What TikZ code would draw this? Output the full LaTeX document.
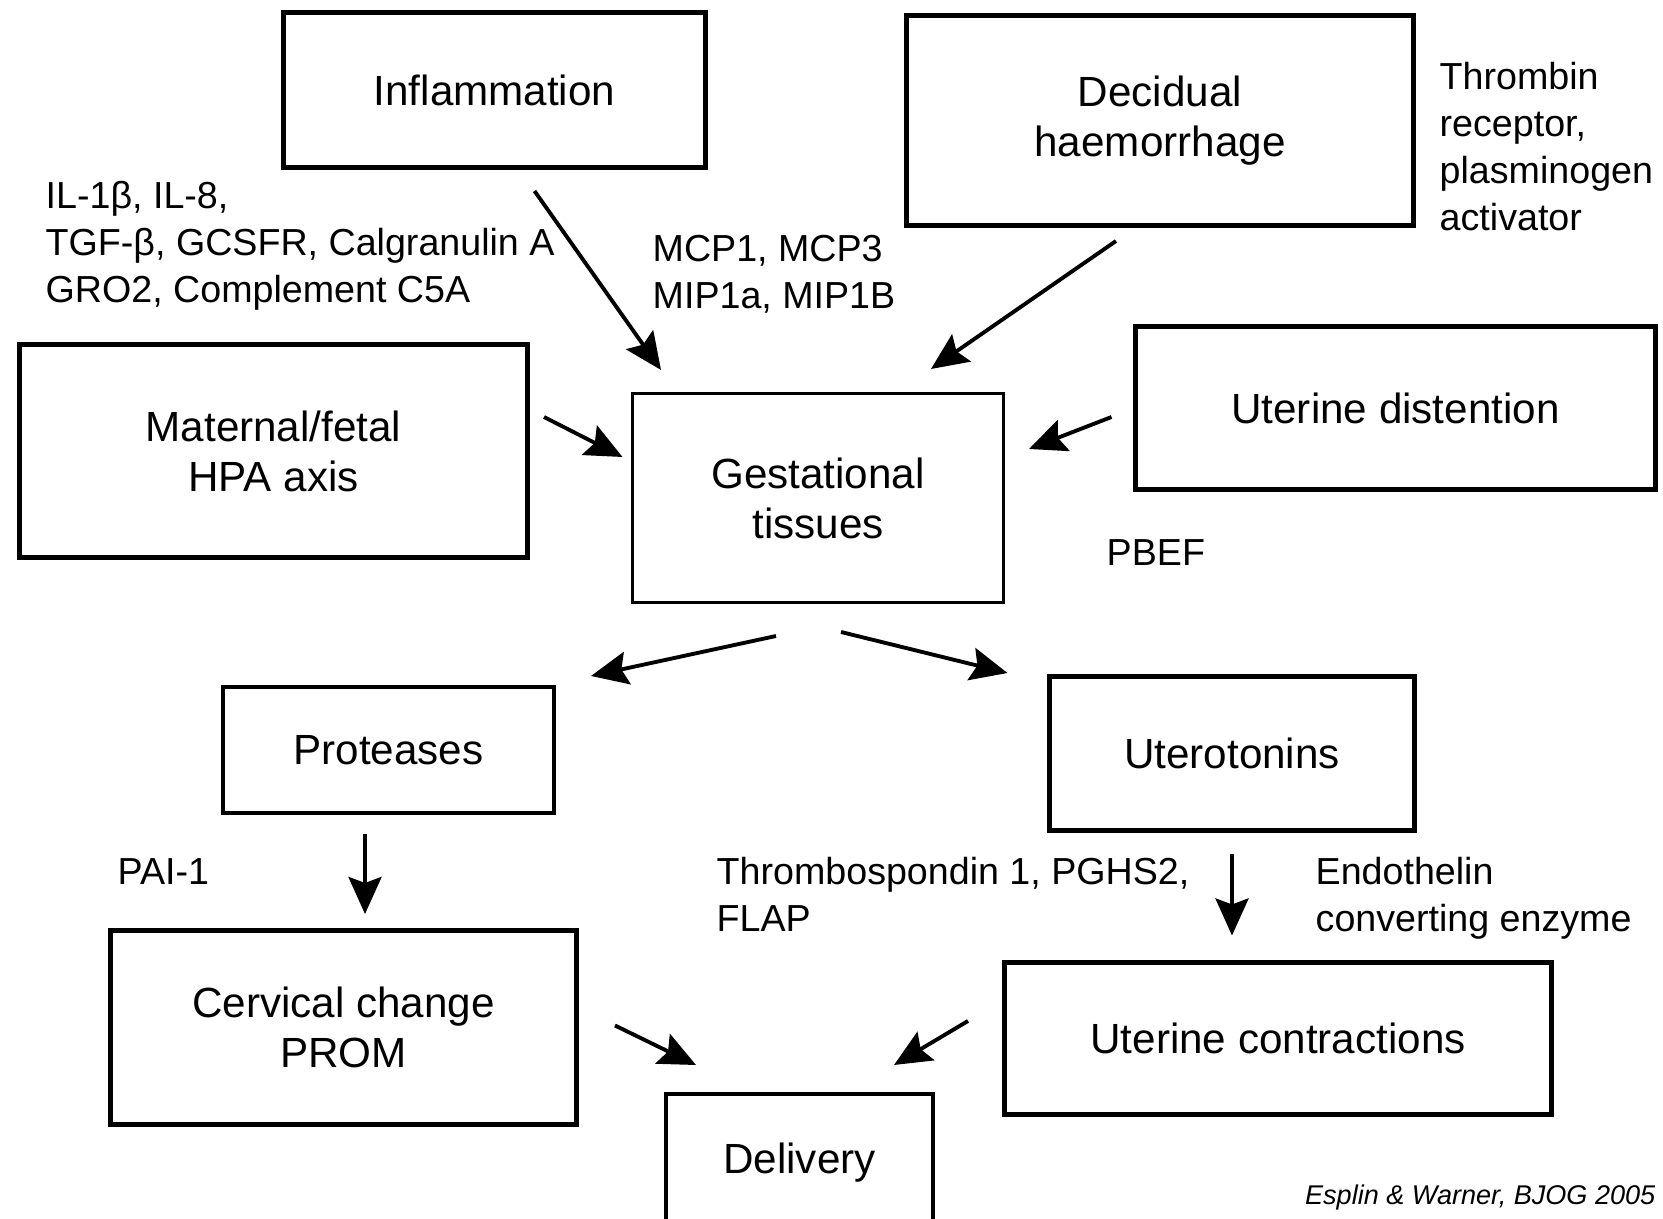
\documentclass[tikz,border=0pt]{standalone}
\usepackage{fontspec}
\setmainfont{Liberation Sans}
\usetikzlibrary{arrows.meta}

\begin{document}
\begin{tikzpicture}[x=0.01cm,y=-0.01cm,
    box/.style={draw=black,line width=1.4pt,align=center,inner sep=0pt,
        font=\fontsize{12}{14.2}\selectfont},
    lbl/.style={anchor=west,align=left,inner sep=0pt,
        font=\fontsize{10.7}{13.3}\selectfont},
    arr/.style={-{Stealth[length=0.37cm,width=0.33cm,inset=0.06cm]},line width=1.1pt}]

\useasboundingbox (0,0) rectangle (1663,1219);
\clip (0,0) rectangle (1663,1219);

% boxes
\node[box,minimum width=4.22cm,minimum height=1.55cm] (infl) at (494.5,90) {Inflammation};
\node[box,minimum width=5.07cm,minimum height=2.10cm] (decid) at (1160,120.5) {Decidual\\haemorrhage};
\node[box,minimum width=5.08cm,minimum height=2.13cm] (hpa) at (273.5,451) {Maternal/fetal\\HPA axis};
\node[box,line width=0.85pt,minimum width=3.71cm,minimum height=2.08cm] (gest) at (818,498) {Gestational\\tissues};
\node[box,minimum width=5.20cm,minimum height=1.62cm] (dist) at (1395.5,408) {Uterine distention};
\node[box,line width=1.15pt,minimum width=3.31cm,minimum height=1.25cm] (prot) at (388.5,750) {Proteases};
\node[box,minimum width=3.65cm,minimum height=1.53cm] (utero) at (1232,753.5) {Uterotonins};
\node[box,minimum width=4.66cm,minimum height=1.94cm] (cerv) at (343.5,1027.5) {Cervical change\\PROM};
\node[box,minimum width=5.47cm,minimum height=1.52cm] (contr) at (1278,1038.5) {Uterine contractions};
\node[box,line width=1.15pt,minimum width=2.67cm,minimum height=1.38cm] (deliv) at (799.5,1163) {Delivery};

% labels
\node[lbl] (cyto) at (45,246) {IL-1β, IL-8,\\TGF-β, GCSFR, Calgranulin A\\GRO2, Complement C5A};
\node[lbl] (mcp) at (652,274) {MCP1, MCP3\\MIP1a, MIP1B};
\node[lbl] (thromb) at (1439,146.5) {Thrombin\\receptor,\\plasminogen\\activator};
\node[lbl] (pbef) at (1106,553) {PBEF};
\node[lbl] (pai) at (117,872) {PAI-1};
\node[lbl] (tsp) at (716,894) {Thrombospondin 1, PGHS2,\\FLAP};
\node[lbl] (ece) at (1315,898) {Endothelin\\converting enzyme};
\node[anchor=east,inner sep=0pt,font=\fontsize{7.7}{9}\selectfont\itshape] (cite) at (1656,1197) {Esplin \& Warner, BJOG 2005};

% arrow ends
\coordinate (inflA)  at (534.5,191);  \coordinate (inflB)  at (661,370);
\coordinate (decidA) at (1116,241);   \coordinate (decidB) at (931,369);
\coordinate (hpaA)   at (544,417);    \coordinate (hpaB)   at (622.5,457);
\coordinate (distA)  at (1111.5,417); \coordinate (distB)  at (1029,449);
\coordinate (protA)  at (776,636);    \coordinate (protB)  at (591,676);
\coordinate (uteroA) at (841,632);    \coordinate (uteroB) at (1007.5,673);
\coordinate (cervA)  at (365,834);    \coordinate (cervB)  at (365,914);
\coordinate (contrA) at (1232,854);   \coordinate (contrB) at (1232,935.5);
\coordinate (delA)   at (615,1025.5); \coordinate (delB)   at (696,1065);
\coordinate (delC)   at (968,1021);   \coordinate (delD)   at (894,1065);

% arrows
\foreach \s/\t in {inflA/inflB,decidA/decidB,hpaA/hpaB,distA/distB,protA/protB,
                   uteroA/uteroB,cervA/cervB,contrA/contrB,delA/delB,delC/delD}
    \draw[arr] (\s) -- (\t);

\end{tikzpicture}
\end{document}
